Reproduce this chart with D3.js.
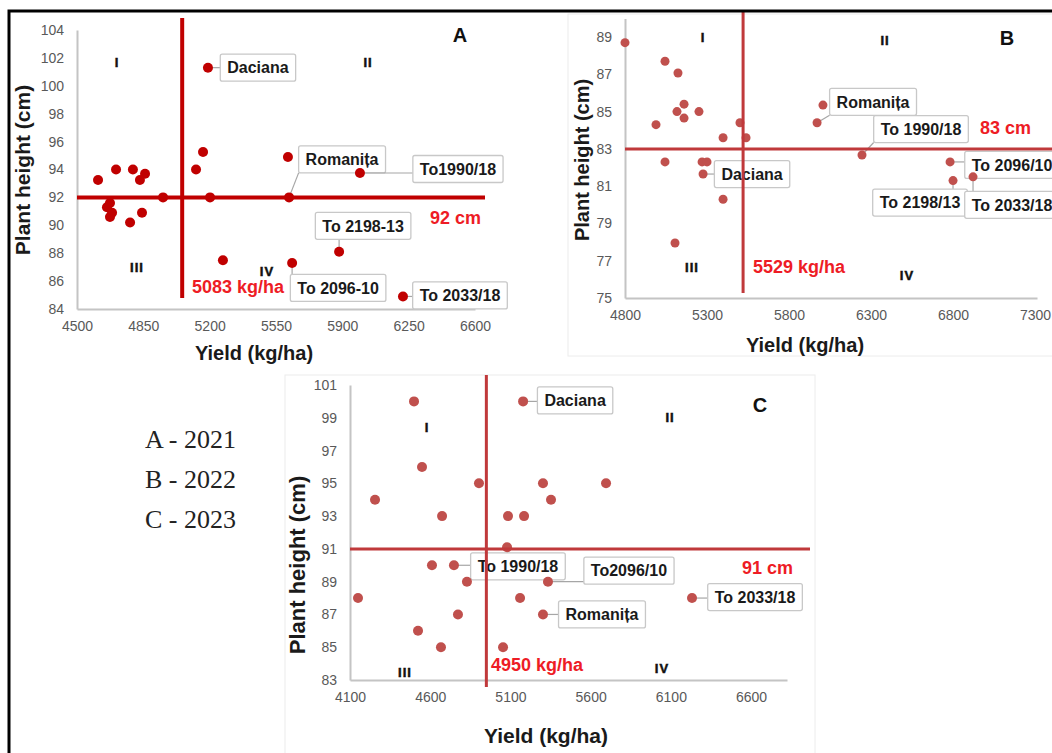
<!DOCTYPE html>
<html>
<head>
<meta charset="utf-8">
<script src="https://cdn.jsdelivr.net/npm/d3@7"></script>
<style>
body{margin:0;background:#fff}
svg{display:block;font-family:"Liberation Sans",Arial,sans-serif}
</style>
</head>
<body>
<svg id="fig" width="1052" height="753"></svg>
<script>
/*** DATA ***/
// A - 2021
const yieldA  = [4611,4706,4795,4859,4832,5128,5165,5191,4674,4658,4685,4674,4780,4843,4954,5202,5270,5613,5619,5993,5883,5635,6220];
const heightA = [93.25,94.0,94.0,93.7,93.25,94.0,95.25,101.3,91.6,91.3,90.9,90.6,90.2,90.9,92.0,92.0,87.5,94.9,92.0,93.75,88.1,87.3,84.9];
const nameA   = ["","","","","","","","Daciana","","","","","","","","","","","Romanița","To1990/18","To 2198-13","To 2096-10","To 2033/18"];
// B - 2022
const yieldB  = [4800,5044,5123,5160,5117,5160,5251,4989,5501,5398,5538,5044,5270,5300,5276,5398,5105,6007,5971,6245,6782,6800,6922];
const heightB = [88.7,87.7,87.07,85.4,85.0,84.65,85.0,84.3,84.4,83.6,83.6,82.3,82.3,82.3,81.65,80.3,77.95,85.35,84.4,82.67,82.3,81.3,81.5];
const nameB   = ["","","","","","","","","","","","","","","Daciana","","","","Romanița","To 1990/18","To 2096/10","To 2198/13","To 2033/18"];
// C - 2023
const yieldC  = [4499,5179,4549,4904,4256,4674,5085,5185,5079,5303,5353,5696,4611,4748,4829,4150,5160,4773,4524,4667,5054,5334,5303,6232];
const heightC = [100,100,96,95,94,93,93,93,91.1,95,94,95,90,90,89,88,88,87,86,85,85,89,87,88];
const nameC   = ["","Daciana","","","","","","","","","","","","To 1990/18","","","","","","","","To2096/10","Romanița","To 2033/18"];

const ticksXA = [4500,4850,5200,5550,5900,6250,6600];
const ticksYA = [84,86,88,90,92,94,96,98,100,102,104];
const ticksXB = [4800,5300,5800,6300,6800,7300];
const ticksYB = [75,77,79,81,83,85,87,89];
const ticksXC = [4100,4600,5100,5600,6100,6600];
const ticksYC = [83,85,87,89,91,93,95,97,99,101];

const cutYield      = [5055,5520,4950];
const cutHeight     = [92,83,91];
const cutYieldText  = ["5083 kg/ha","5529 kg/ha","4950 kg/ha"];
const cutHeightText = ["92 cm","83 cm","91 cm"];

const panelNames = ["A","B","C"];
const quadrants  = ["I","II","III","IV"];
const legendText = ["A - 2021","B - 2022","C - 2023"];
const yTitle = "Plant height (cm)";
const xTitle = "Yield (kg/ha)";

/*** LAYOUT ***/
const layout = [
  {xs:[4500,6600], xr:[77,475], ys:[84,104], yr:[309,30], dot:"#c00000", line:"#c00000", lw:4, r:5,
   vTop:18, vBot:298, hEnd:485, cmPos:[430,224], kgPos:[192,293],
   quad:[[117,62],[368,62],[137,267],[267,271]], letter:[460,35],
   yT:[22,170], xT:[254,353], ySize:21, xSize:20,
   call:{"Daciana":[50,0],"Romanița":[53,-38],"To1990/18":[98,-4],"To 2198-13":[24,-26],"To 2096-10":[46,25],"To 2033/18":[57,-1]}},
  {xs:[4800,7312], xr:[625,1037], ys:[75,90], yr:[298,18.4], dot:"#c0504d", line:"#c0393b", lw:3, r:4.5,
   vTop:10, vBot:293, hEnd:1052, cmPos:[980,134], kgPos:[753,273],
   quad:[[703,37],[885,40],[692,267],[907,275]], letter:[1007,38],
   yT:[582,160], xT:[805,345], ySize:20, xSize:20,
   call:{"Daciana":[49,0],"Romanița":[56,-21],"To 1990/18":[59,-26],"To 2096/10":[62,3],"To 2198/13":[-33,22],"To 2033/18":[39,28]}},
  {xs:[4100,6824], xr:[350,787], ys:[83,101], yr:[680,385], dot:"#c0504d", line:"#c0393b", lw:3, r:5,
   vTop:375, vBot:687, hEnd:810, cmPos:[742,574], kgPos:[491,671],
   quad:[[427,427],[670,417],[405,672],[662,668]], letter:[760,405],
   yT:[297,565], xT:[546,735], ySize:22, xSize:21,
   call:{"Daciana":[52,-1],"To 1990/18":[64,1],"To2096/10":[81,-11],"Romanița":[59,0],"To 2033/18":[63,-1]}}
];

const panels = [
  {yield:yieldA, height:heightA, name:nameA, tx:ticksXA, ty:ticksYA},
  {yield:yieldB, height:heightB, name:nameB, tx:ticksXB, ty:ticksYB},
  {yield:yieldC, height:heightC, name:nameC, tx:ticksXC, ty:ticksYC}
];

const svg = d3.select("#fig");

// faint panel frames
svg.append("rect").attr("x",568).attr("y",14).attr("width",490).attr("height",342)
   .attr("fill","none").attr("stroke","#ececec");
svg.append("rect").attr("x",285).attr("y",375).attr("width",530).attr("height",390)
   .attr("fill","none").attr("stroke","#ececec");

function drawPanel(p, L, i){
  const g = svg.append("g");
  const x = d3.scaleLinear().domain(L.xs).range(L.xr);
  const y = d3.scaleLinear().domain(L.ys).range(L.yr);

  const ax = g.append("g").attr("transform","translate(0,"+L.yr[0]+")")
     .call(d3.axisBottom(x).tickValues(p.tx).tickSize(0).tickSizeOuter(0).tickPadding(12).tickFormat(d3.format("d")));
  const ay = g.append("g").attr("transform","translate("+L.xr[0]+",0)")
     .call(d3.axisLeft(y).tickValues(p.ty).tickSize(0).tickSizeOuter(0).tickPadding(13).tickFormat(d3.format("d")));
  [ax,ay].forEach(a=>{
    a.select(".domain").attr("stroke","#c4c4c4").attr("stroke-width",2);
    a.selectAll("text").attr("font-size",14).attr("fill","#595959").attr("font-family","Liberation Sans, Arial, sans-serif");
  });

  const pts = p.yield.map((v,k)=>({x:v, y:p.height[k], n:p.name[k]}));

  // callouts (under the points)
  pts.filter(d=>d.n).forEach(d=>{
    const px = x(d.x), py = y(d.y);
    const off = L.call[d.n];
    const cx = px+off[0], cy = py+off[1];
    const gg = g.append("g");
    const t = gg.append("text").attr("x",cx).attr("y",cy).attr("dy","0.36em")
      .attr("text-anchor","middle").attr("font-size",16).attr("font-weight","bold")
      .attr("fill","#1a1a1a").text(d.n);
    const w = t.node().getComputedTextLength()+14, h = 27;
    const lx = Math.max(cx-w/2, Math.min(px, cx+w/2));
    const ly = Math.max(cy-h/2, Math.min(py, cy+h/2));
    gg.insert("line","text").attr("x1",px).attr("y1",py).attr("x2",lx).attr("y2",ly)
      .attr("stroke","#a6a6a6").attr("stroke-width",1.2);
    gg.insert("rect","text").attr("x",cx-w/2).attr("y",cy-h/2).attr("width",w).attr("height",h)
      .attr("rx",2).attr("fill","#fff").attr("stroke","#c8c8c8").attr("stroke-width",1.3);
  });

  g.selectAll("circle.dot").data(pts).enter().append("circle")
   .attr("class","dot")
   .attr("cx",d=>x(d.x)).attr("cy",d=>y(d.y)).attr("r",L.r).attr("fill",L.dot);

  // mean lines, drawn over everything like in the original
  g.append("line").attr("x1",x(cutYield[i])).attr("x2",x(cutYield[i]))
   .attr("y1",L.vTop).attr("y2",L.vBot).attr("stroke",L.line).attr("stroke-width",L.lw);
  g.append("line").attr("x1",L.xr[0]).attr("x2",L.hEnd)
   .attr("y1",y(cutHeight[i])).attr("y2",y(cutHeight[i])).attr("stroke",L.line).attr("stroke-width",L.lw);

  // red mean labels
  g.append("text").attr("x",L.cmPos[0]).attr("y",L.cmPos[1]).attr("font-size",18).attr("font-weight","bold")
   .attr("fill","#ee1c25").text(cutHeightText[i]);
  g.append("text").attr("x",L.kgPos[0]).attr("y",L.kgPos[1]).attr("font-size",18).attr("font-weight","bold")
   .attr("fill","#ee1c25").text(cutYieldText[i]);

  // quadrants and panel letter
  g.selectAll("text.quad").data(quadrants).enter().append("text").attr("class","quad")
   .attr("x",(d,k)=>L.quad[k][0]).attr("y",(d,k)=>L.quad[k][1]).attr("dy","0.36em")
   .attr("text-anchor","middle").attr("font-size",13).attr("font-weight","bold")
   .attr("letter-spacing",1).attr("fill","#111").attr("stroke","#111").attr("stroke-width",0.5)
   .text(d=>d);
  g.append("text").attr("x",L.letter[0]).attr("y",L.letter[1]).attr("dy","0.36em")
   .attr("text-anchor","middle").attr("font-size",20).attr("font-weight","bold").attr("fill","#111")
   .text(panelNames[i]);

  // axis titles
  g.append("text").attr("transform","translate("+L.yT[0]+","+L.yT[1]+") rotate(-90)")
   .attr("dy","0.36em").attr("text-anchor","middle").attr("font-size",L.ySize).attr("font-weight","bold")
   .attr("fill","#1a1a1a").text(yTitle);
  g.append("text").attr("x",L.xT[0]).attr("y",L.xT[1]).attr("dy","0.36em")
   .attr("text-anchor","middle").attr("font-size",L.xSize).attr("font-weight","bold")
   .attr("fill","#1a1a1a").text(xTitle);
}

panels.forEach((p,i)=>drawPanel(p, layout[i], i));

// legend
svg.selectAll("text.leg").data(legendText).enter().append("text").attr("class","leg")
  .attr("x",145).attr("y",(d,k)=>448+k*40)
  .attr("font-family","Liberation Serif, Times New Roman, serif").attr("font-size",26)
  .attr("fill","#222").text(d=>d);

// outer frame
svg.append("path").attr("d","M9,753V11H1052").attr("fill","none").attr("stroke","#000").attr("stroke-width",3);
</script>
</body>
</html>
